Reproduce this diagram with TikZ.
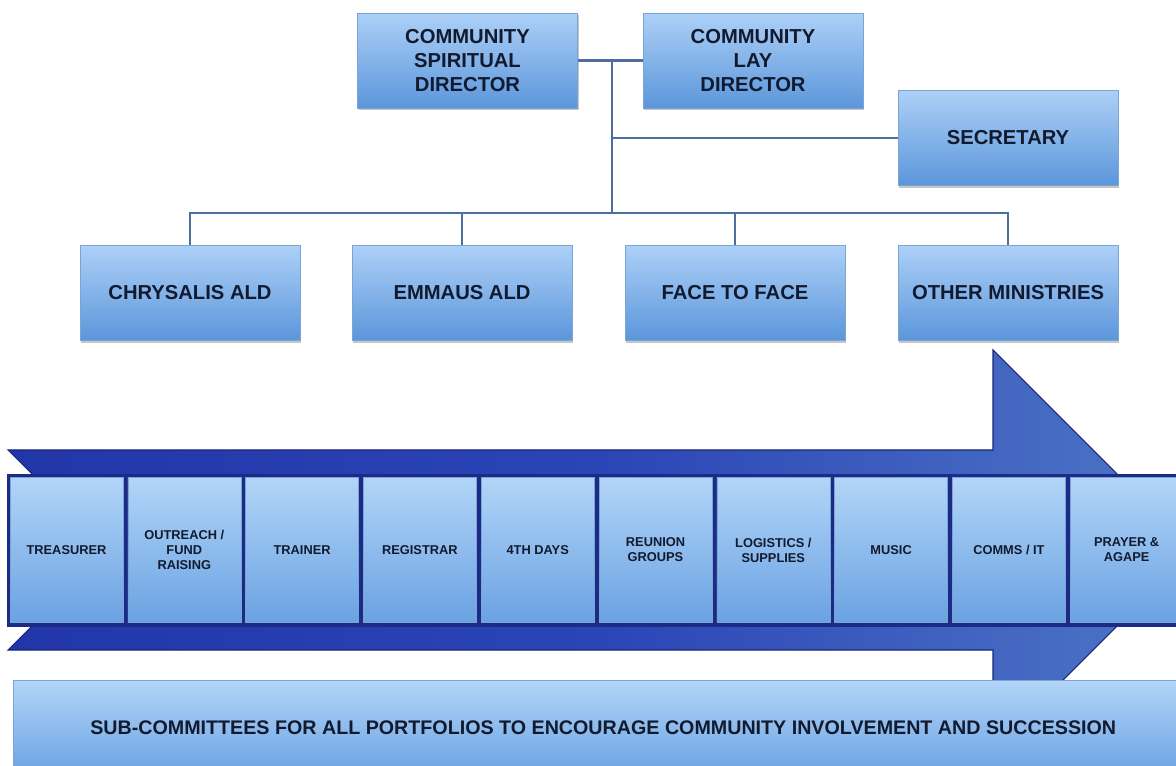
\documentclass[tikz,border=0pt]{standalone}
\usepackage{fontspec}
\setmainfont{Liberation Sans}
\usepackage{xcolor}
\usetikzlibrary{shadows}

\definecolor{boxtop}{HTML}{ADD0F7}
\definecolor{boxbottom}{HTML}{5B96DB}
\definecolor{boxedge}{HTML}{7AA4D6}
\definecolor{porttop}{HTML}{B2D5F8}
\definecolor{portbottom}{HTML}{6AA2E2}
\definecolor{linkblue}{HTML}{4D6E9E}
\definecolor{arrowdark}{HTML}{19279B}
\definecolor{arrowmid}{HTML}{2B45B6}
\definecolor{arrowhead}{HTML}{5580CA}
\definecolor{arrowlight}{HTML}{5E8AD0}
\definecolor{arrowedge}{HTML}{1A2676}
\definecolor{bandnavy}{HTML}{1C2C86}
\definecolor{inktext}{HTML}{111A2E}

\pgfdeclarehorizontalshading{arrowshade}{100bp}{color(0bp)=(arrowdark); color(50bp)=(arrowmid); color(80bp)=(arrowhead); color(100bp)=(arrowlight)}

\tikzset{
  chartbox/.style={rectangle, draw=boxedge, line width=0.4pt,
    top color=boxtop, bottom color=boxbottom,
    drop shadow={shadow xshift=0.8pt, shadow yshift=-1.2pt, opacity=0.45},
    minimum width=4.4cm, minimum height=1.9cm, inner sep=0pt, align=center,
    text=inktext, font=\bfseries\fontsize{11.5}{13.6}\selectfont},
  portbox/.style={rectangle, draw=boxedge, line width=0.3pt,
    top color=porttop, bottom color=portbottom,
    minimum width=2.26cm, minimum height=2.9cm, inner sep=0pt, align=center,
    text=inktext, font=\bfseries\fontsize{7.3}{8.5}\selectfont},
  link/.style={draw=linkblue, line width=1.6pt}
}

\begin{document}
\begin{tikzpicture}[x=0.02cm, y=-0.02cm]
\useasboundingbox (0,0) rectangle (1176,766);
\clip (0,0) rectangle (1176,766);

% The arrow
\path[shading=arrowshade, draw=arrowedge, line width=0.6pt] (8,450) -- (993,450) -- (993,350) -- (1193,550) -- (993,750) -- (993,650) -- (8,650) -- (108,550) -- cycle;
\fill[bandnavy] (7,474) rectangle (1190,627);

% The portfolios
\foreach \name [count=\i from 0] in {TREASURER, OUTREACH /\\FUND\\RAISING, TRAINER, REGISTRAR, 4TH DAYS, REUNION\\GROUPS, LOGISTICS /\\SUPPLIES, MUSIC, COMMS / IT, PRAYER \&\\AGAPE}
  \node[portbox] (port\i) at (66.5+117.8*\i,550) {\name};

% The banner
\node[chartbox, anchor=north west, minimum width=23.6cm, top color=porttop, bottom color=portbottom, font=\bfseries\fontsize{11.2}{13}\selectfont] (subs) at (13,680) {SUB-COMMITTEES FOR ALL PORTFOLIOS TO ENCOURAGE COMMUNITY INVOLVEMENT AND SUCCESSION};

% The directors
\node[chartbox] (sdir) at (467.5,60.5) {COMMUNITY\\SPIRITUAL\\DIRECTOR};
\node[chartbox] (ldir) at (753,60.5) {COMMUNITY\\LAY\\DIRECTOR};
\node[chartbox] (sec) at (1008,138) {SECRETARY};

% The ministries
\node[chartbox] (chrys) at (190,293) {CHRYSALIS ALD};
\node[chartbox] (emm) at (462,293) {EMMAUS ALD};
\node[chartbox] (face) at (735,293) {FACE TO FACE};
\node[chartbox] (other) at (1008,293) {OTHER MINISTRIES};

% The lines
\coordinate (hub) at (612,61);
\coordinate (bus) at (612,213);
\draw[link] (sdir.east) -- (ldir.west);
\draw[link] (hub) -- (bus);
\draw[link] (hub |- sec.west) -- (sec.west);
\draw[link] (chrys.north) |- (bus) -| (other.north);
\draw[link] (emm.north) -- (emm.north |- bus);
\draw[link] (face.north) -- (face.north |- bus);
\end{tikzpicture}
\end{document}
